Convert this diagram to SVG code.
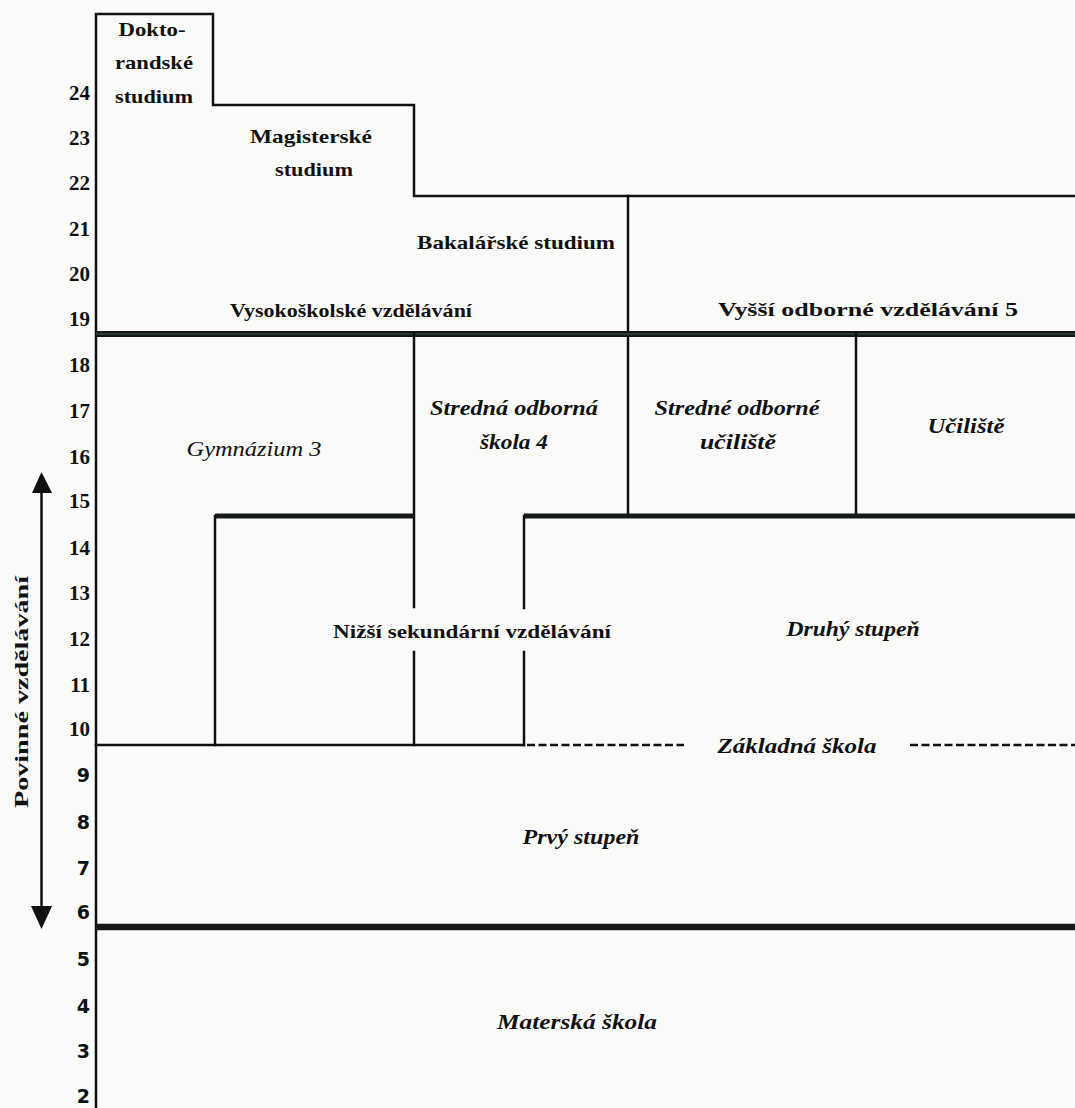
<svg xmlns="http://www.w3.org/2000/svg" width="1075" height="1108" viewBox="0 0 1075 1108">
<defs>
<style>
.bg{fill:#fbfbfa}
.ln{stroke:#111;stroke-width:2.5;fill:none;stroke-linecap:square}
.thick{stroke:#151a18;stroke-width:5;fill:none}
.thicker{stroke:#151a18;stroke-width:6.5;fill:none}
.dash{stroke:#111;stroke-width:2.5;stroke-dasharray:8 3.5;fill:none}
.lb{font-family:"Liberation Serif",serif;font-weight:bold;font-size:19px;fill:#111;text-anchor:middle}
.it{font-family:"Liberation Serif",serif;font-weight:bold;font-style:italic;font-size:20px;fill:#111;text-anchor:middle}
.itr{font-family:"Liberation Serif",serif;font-style:italic;font-size:20px;fill:#111;text-anchor:middle}
.num{font-family:"Liberation Serif",serif;font-weight:bold;font-size:21px;fill:#111;text-anchor:end}
.nums{font-family:"DejaVu Sans",sans-serif;font-weight:bold;font-size:19px;fill:#111;text-anchor:end}
.vt{font-family:"Liberation Serif",serif;font-weight:bold;font-size:18px;fill:#111;text-anchor:middle}
</style>
</defs>
<rect class="bg" x="0" y="0" width="1075" height="1108"/>

<g id="connectors">
<path class="ln" d="M96,1108 V14 H213 V105 H414 V196 H1075"/>
<path class="ln" d="M628,196 V516"/>
<path d="M96,334 H1075" stroke="#131816" stroke-width="6" fill="none"/>
<path d="M96,334 H1075" stroke="#4a5a52" stroke-width="1" fill="none"/>
<path class="ln" d="M414,333 V607"/>
<path class="ln" d="M414,652 V745"/>
<path class="ln" d="M856,333 V516"/>
<path class="thick" d="M215,516 H414"/>
<path class="thick" d="M524,516 H1075"/>
<path class="ln" d="M215,516 V745"/>
<path class="ln" d="M524,516 V608"/>
<path class="ln" d="M524,652 V745"/>
<path class="ln" d="M96,745 H524"/>
<path class="dash" d="M527,745 H684"/>
<path class="dash" d="M910,745 H1075"/>
<path class="thicker" d="M96,927 H1075"/>
<path d="M41.5,492 V907" stroke="#111" stroke-width="2.5" fill="none"/>
<path d="M41.5,472 L32,493 L52,493 Z" fill="#111"/>
<path d="M41.5,929 L31,906 L52,906 Z" fill="#111"/>
</g>

<g id="axis">
<text class="num" x="90" y="100">24</text>
<text class="num" x="90" y="145">23</text>
<text class="num" x="90" y="190">22</text>
<text class="num" x="90" y="236">21</text>
<text class="num" x="90" y="281">20</text>
<text class="num" x="90" y="326">19</text>
<text class="num" x="90" y="372">18</text>
<text class="num" x="90" y="418">17</text>
<text class="num" x="90" y="464">16</text>
<text class="num" x="90" y="508">15</text>
<text class="num" x="90" y="555">14</text>
<text class="num" x="90" y="600">13</text>
<text class="num" x="90" y="646">12</text>
<text class="num" x="90" y="692">11</text>
<text class="num" x="90" y="736">10</text>
<text class="nums" x="90" y="782">9</text>
<text class="nums" x="90" y="829">8</text>
<text class="nums" x="90" y="875">7</text>
<text class="nums" x="90" y="919">6</text>
<text class="nums" x="90" y="966">5</text>
<text class="nums" x="90" y="1013">4</text>
<text class="nums" x="90" y="1058">3</text>
<text class="nums" x="90" y="1103">2</text>
</g>

<g id="povinne">
<text class="vt" x="28" y="692" transform="rotate(-90 28 692)" textLength="232" lengthAdjust="spacingAndGlyphs">Povinné vzdělávání</text>
</g>

<g id="doktorandske">
<text class="lb" x="152" y="36" textLength="67" lengthAdjust="spacingAndGlyphs">Dokto-</text>
<text class="lb" x="154" y="69" textLength="78" lengthAdjust="spacingAndGlyphs">randské</text>
<text class="lb" x="154" y="103" textLength="78" lengthAdjust="spacingAndGlyphs">studium</text>
</g>

<g id="magisterske">
<text class="lb" x="311" y="143" textLength="122" lengthAdjust="spacingAndGlyphs">Magisterské</text>
<text class="lb" x="314" y="176" textLength="78" lengthAdjust="spacingAndGlyphs">studium</text>
</g>

<g id="bakalarske">
<text class="lb" x="516" y="249" textLength="198" lengthAdjust="spacingAndGlyphs">Bakalářské studium</text>
</g>

<g id="vysokoskolske">
<text class="lb" x="351" y="317" textLength="242" lengthAdjust="spacingAndGlyphs">Vysokoškolské vzdělávání</text>
</g>

<g id="vyssi-odborne">
<text class="lb" x="868" y="316" textLength="300" lengthAdjust="spacingAndGlyphs">Vyšší odborné vzdělávání 5</text>
</g>

<g id="gymnazium">
<text class="itr" x="254" y="456" textLength="135" lengthAdjust="spacingAndGlyphs">Gymnázium 3</text>
</g>

<g id="stredna-odborna-skola">
<text class="it" x="514" y="415" textLength="168" lengthAdjust="spacingAndGlyphs">Stredná odborná</text>
<text class="it" x="514" y="449" textLength="68" lengthAdjust="spacingAndGlyphs">škola 4</text>
</g>

<g id="stredne-odborne-uciliste">
<text class="it" x="737" y="415" textLength="165" lengthAdjust="spacingAndGlyphs">Stredné odborné</text>
<text class="it" x="738" y="449" textLength="76" lengthAdjust="spacingAndGlyphs">učiliště</text>
</g>

<g id="uciliste">
<text class="it" x="966" y="433" textLength="77" lengthAdjust="spacingAndGlyphs">Učiliště</text>
</g>

<g id="nizsi-sekundarni">
<text class="lb" x="472" y="638" textLength="278" lengthAdjust="spacingAndGlyphs">Nižší sekundární vzdělávání</text>
</g>

<g id="druhy-stupen">
<text class="it" x="853" y="636" textLength="133" lengthAdjust="spacingAndGlyphs">Druhý stupeň</text>
</g>

<g id="zakladna-skola">
<text class="it" x="797" y="753" textLength="159" lengthAdjust="spacingAndGlyphs">Základná škola</text>
</g>

<g id="prvy-stupen">
<text class="it" x="581" y="844" textLength="117" lengthAdjust="spacingAndGlyphs">Prvý stupeň</text>
</g>

<g id="materska-skola">
<text class="it" x="577" y="1029" textLength="160" lengthAdjust="spacingAndGlyphs">Materská škola</text>
</g>
</svg>
